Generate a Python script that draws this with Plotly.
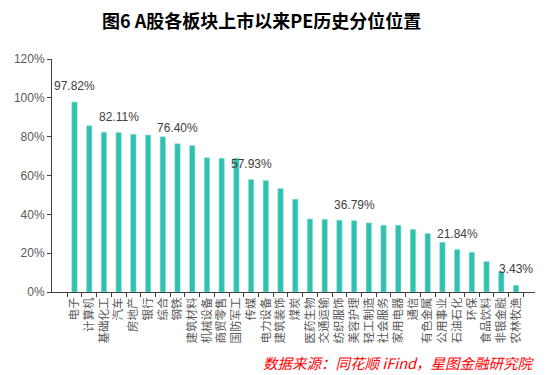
import plotly.graph_objects as go

categories = ["电子", "计算机", "基础化工", "汽车", "房地产", "银行", "综合", "钢铁", "建筑材料",
              "机械设备", "商贸零售", "国防军工", "传媒", "电力设备", "建筑装饰", "煤炭", "医药生物",
              "交通运输", "纺织服饰", "美容护理", "轻工制造", "社会服务", "家用电器", "通信", "有色金属",
              "公用事业", "石油石化", "环保", "食品饮料", "非银金融", "农林牧渔"]
values = [97.82, 85.6, 82.3, 82.11, 81.3, 80.8, 79.9, 76.40, 75.5,
          69.1, 68.9, 68.9, 57.93, 57.4, 53.3, 47.8, 37.6,
          37.5, 37.0, 36.79, 35.6, 34.4, 34.4, 32.3, 30.1,
          25.6, 21.84, 20.5, 15.7, 10.5, 3.43]
labeled = ["电子", "汽车", "钢铁", "传媒", "美容护理", "石油石化", "农林牧渔"]
y_ticks = [0, 20, 40, 60, 80, 100, 120]
y_tick_text = ["0%", "20%", "40%", "60%", "80%", "100%", "120%"]

title = "图6 A股各板块上市以来PE历史分位位置"
source = "数据来源：同花顺 iFind，星图金融研究院"

fig = go.Figure()
fig.add_trace(go.Bar(
    x=categories, y=values,
    marker=dict(color="#30C0AF", line=dict(color="#9FE3DA", width=0.6)),
    hoverinfo="x+y",
))

for c, v in zip(categories, values):
    if c in labeled:
        fig.add_annotation(x=c, y=v, text=f"{v:.2f}%", showarrow=False,
                           yanchor="bottom", yshift=7,
                           font=dict(family="Liberation Sans, Arial", size=12, color="#404040"))

fig.add_annotation(xref="paper", yref="paper", x=0.434, y=1.0, yshift=39,
                   text=f"<b>{title}</b>", showarrow=False, xanchor="center", yanchor="middle",
                   font=dict(family="Noto Sans CJK SC", size=18, color="#000000"))
fig.add_annotation(xref="paper", yref="paper", x=1.004, y=0, yshift=-70,
                   text=source, showarrow=False, xanchor="right", yanchor="middle",
                   font=dict(family="Noto Sans CJK SC", size=14.5, color="#FF0000", style="italic"))

fig.update_layout(
    width=554, height=375,
    margin=dict(l=52, r=19, t=59, b=83, autoexpand=False),
    paper_bgcolor="white", plot_bgcolor="white",
    bargap=0.63,
    showlegend=False,
    font=dict(family="Liberation Sans, Arial", size=12, color="#595959"),
)
fig.update_xaxes(
    type="category", tickangle=-90, tickson="boundaries", automargin=False,
    showline=True, linecolor="#404040", linewidth=1,
    ticks="outside", ticklen=4, tickcolor="#404040",
    tickfont=dict(family="Noto Sans CJK SC", size=11.5, color="#595959"),
    showgrid=False,
)
fig.update_yaxes(
    range=[0, 120], tickvals=y_ticks, ticktext=y_tick_text, automargin=False,
    showline=True, linecolor="#404040", linewidth=1,
    ticks="outside", ticklen=4, tickcolor="#404040",
    showgrid=False, zeroline=False,
    tickfont=dict(family="Liberation Sans, Arial", size=12, color="#595959"),
)

fig.write_html("out.html", config={"displayModeBar": False},
               post_script="document.body.style.margin='0';document.body.style.overflow='hidden';")
